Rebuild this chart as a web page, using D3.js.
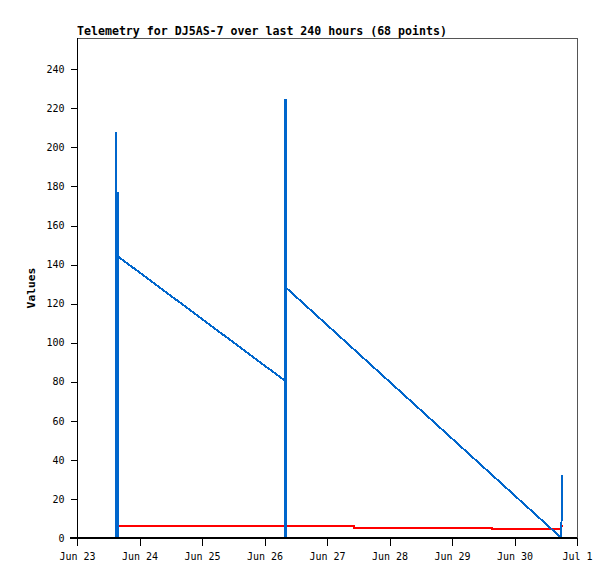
<!DOCTYPE html>
<html>
<head>
<meta charset="utf-8">
<script src="https://cdn.jsdelivr.net/npm/d3@7"></script>
<style>
  html, body { margin: 0; padding: 0; background: #fff; }
  svg { display: block; }
</style>
</head>
<body>
<svg id="chart" width="615" height="579"></svg>
<script>
// ---- data ----
const titleText = "Telemetry for DJ5AS-7 over last 240 hours (68 points)";
const yLabel = "Values";
const xDomain = ["Jun 23 00:00", "Jul 01 00:00"];
const yDomain = [0, 256];
const yTicks = [0, 20, 40, 60, 80, 100, 120, 140, 160, 180, 200, 220, 240];
const xTickLabels = ["Jun 23", "Jun 24", "Jun 25", "Jun 26", "Jun 27", "Jun 28", "Jun 29", "Jun 30", "Jul 1"];

const blueTimes = ["Jun 23 14:54", "Jun 23 15:00", "Jun 23 15:12", "Jun 23 15:36", "Jun 23 15:42", "Jun 23 15:54",
                   "Jun 26 07:52", "Jun 26 07:58", "Jun 26 08:04", "Jun 26 08:10", "Jun 26 08:24",
                   "Jun 30 18:00", "Jun 30 18:12"];
const blueValues = [0, 208, 0, 177, 0, 144,
                    80.5, 0, 225, 0, 128,
                    0, 32];

const redTimes = ["Jun 23 16:08", "Jun 27 10:22", "Jun 27 10:22", "Jun 29 15:22", "Jun 29 15:22",
                  "Jun 30 17:50", "Jun 30 17:50", "Jun 30 18:48"];
const redValues = [5.9, 5.9, 5.2, 5.2, 4.7, 4.7, 5.9, 5.9];

// ---- drawing ----
const parse = d3.timeParse("%b %d %H:%M");
const svg = d3.select("#chart");
const L = 77, R = 577, T = 38, B = 538;

const x = d3.scaleTime().domain(xDomain.map(parse)).range([L, R]);
const y = d3.scaleLinear().domain(yDomain).range([B, T]);

const monoFont = "'DejaVu Sans Mono', monospace";

// frame
svg.append("rect")
  .attr("x", L + 0.5).attr("y", T + 0.5)
  .attr("width", R - L).attr("height", B - T)
  .attr("fill", "none").attr("stroke", "#555").attr("stroke-width", 1)
  .attr("shape-rendering", "crispEdges");

// title
svg.append("text")
  .attr("x", L).attr("y", 35)
  .attr("font-family", monoFont).attr("font-weight", "bold").attr("font-size", "11.6px")
  .attr("fill", "#000")
  .text(titleText);

// y axis
const yAxis = d3.axisLeft(y).tickValues(yTicks).tickSize(7).tickPadding(6).tickFormat(d3.format("d"));
const gy = svg.append("g").attr("transform", `translate(${L + 0.5},0)`).call(yAxis);
gy.select(".domain").remove();
gy.append("line").attr("x1", 0).attr("x2", 0).attr("y1", T).attr("y2", B)
  .attr("stroke", "#000").attr("shape-rendering", "crispEdges");
gy.selectAll(".tick line").attr("stroke", "#000").attr("shape-rendering", "crispEdges");
gy.selectAll(".tick text").attr("font-family", monoFont).attr("font-size", "10px").attr("fill", "#000");

// x axis
const xTickDates = xTickLabels.map((_, i) => d3.timeDay.offset(parse(xDomain[0]), i));
const xAxis = d3.axisBottom(x).tickValues(xTickDates).tickSize(8).tickPadding(7)
  .tickFormat((d, i) => xTickLabels[i]);
const gx = svg.append("g").attr("transform", `translate(0,${B})`).call(xAxis);
gx.select(".domain").remove();
gx.selectAll(".tick line").attr("stroke", "#000").attr("shape-rendering", "crispEdges");
gx.selectAll(".tick text").attr("font-family", monoFont).attr("font-size", "10px").attr("fill", "#000");

// y label
svg.append("text")
  .attr("transform", `translate(35,${(T + B) / 2}) rotate(-90)`)
  .attr("text-anchor", "middle")
  .attr("font-family", monoFont).attr("font-weight", "bold").attr("font-size", "11.3px")
  .attr("fill", "#000")
  .text(yLabel);

// series
const lineGen = d3.line().x(d => x(d[0])).y(d => y(d[1]));
const redData = redTimes.map((t, i) => [parse(t), redValues[i]]);
const blueData = blueTimes.map((t, i) => [parse(t), blueValues[i]]);

svg.append("path").datum(redData).attr("d", lineGen)
  .attr("fill", "none").attr("stroke", "#ff0000").attr("stroke-width", 2)
  .attr("shape-rendering", "crispEdges");
svg.append("path").datum(blueData).attr("d", lineGen)
  .attr("fill", "none").attr("stroke", "#0066cc").attr("stroke-width", 2)
  .attr("stroke-linejoin", "miter")
  .attr("shape-rendering", "crispEdges");

// zero line
svg.append("line")
  .attr("x1", L - 7).attr("x2", R).attr("y1", y(0) - 0.5).attr("y2", y(0) - 0.5)
  .attr("stroke", "#000").attr("stroke-width", 2).attr("shape-rendering", "crispEdges");
</script>
</body>
</html>
